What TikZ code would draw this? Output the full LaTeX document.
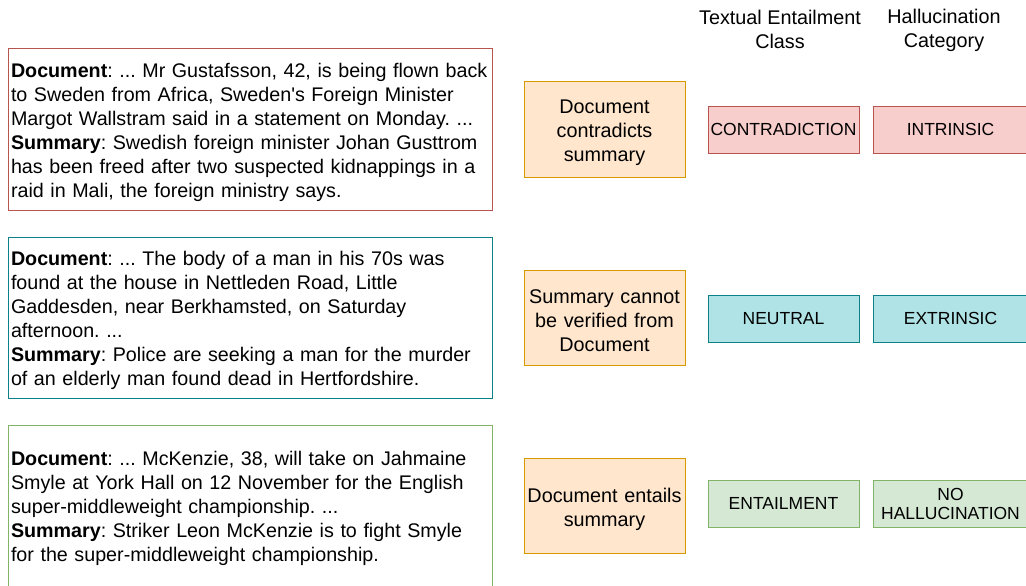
\documentclass[tikz,border=0pt]{standalone}
\usepackage{fontspec}
\setmainfont{Liberation Sans}
\usepackage{xcolor}
\definecolor{redline}{HTML}{B85450}
\definecolor{redfill}{HTML}{F8CECC}
\definecolor{tealline}{HTML}{0E8088}
\definecolor{tealfill}{HTML}{B0E3E6}
\definecolor{greenline}{HTML}{82B366}
\definecolor{greenfill}{HTML}{D5E8D4}
\definecolor{orangeline}{HTML}{D79B00}
\definecolor{orangefill}{HTML}{FFE6CC}
\tikzstyle{docbox} = [rectangle, minimum width=484, minimum height=161, text width=478, inner xsep=3, align=left, font=\fontsize{19.7}{24}\selectfont\frenchspacing, execute at begin node=\rule{0pt}{20.5pt}, fill=white, line width=1pt]
\tikzstyle{relbox} = [rectangle, minimum width=161, minimum height=95, text width=158, inner sep=0, align=center, font=\fontsize{19.8}{24}\selectfont, execute at begin node=\rule{0pt}{20.5pt}, draw=orangeline, fill=orangefill, line width=1pt]
\tikzstyle{classbox} = [rectangle, minimum width=151, minimum height=47, inner sep=0, align=center, font=\fontsize{17.5}{19}\selectfont, line width=1pt]
\tikzstyle{catbox} = [rectangle, minimum width=155, minimum height=47, inner sep=0, align=center, font=\fontsize{17.5}{19}\selectfont, line width=1pt]
\tikzstyle{header} = [align=center, font=\fontsize{19.8}{24}\selectfont, inner sep=0]

\begin{document}
\begin{tikzpicture}[x=1pt,y=-1pt]
	\useasboundingbox (0,0) rectangle (1026,586);
	% column headers
	\node[header] (hclass) at (780,29) {Textual Entailment\\Class};
	\node[header] (hcat) at (944,30) {Hallucination\\Category};
	% contradiction row
	\node[docbox, draw=redline] (doc1) at (250,129.5) {\textbf{Document}: ... Mr Gustafsson, 42, is being flown back\\to Sweden from Africa, Sweden\textquotesingle s Foreign Minister\\Margot Wallstram said in a statement on Monday. ...\\\textbf{Summary}: Swedish foreign minister Johan Gusttrom\\has been freed after two suspected kidnappings in a\\raid in Mali, the foreign ministry says.};
	\node[relbox] (rel1) at (604.5,129.5) {Document\\contradicts\\summary};
	\node[classbox, draw=redline, fill=redfill] (class1) at (783.5,129.5) {CONTRADICTION};
	\node[catbox, draw=redline, fill=redfill] (cat1) at (950.5,129.5) {INTRINSIC};
	% neutral row
	\node[docbox, draw=tealline] (doc2) at (250,317.5) {\textbf{Document}: ... The body of a man in his 70s was\\found at the house in Nettleden Road, Little\\Gaddesden, near Berkhamsted, on Saturday\\afternoon. ...\\\textbf{Summary}: Police are seeking a man for the murder\\of an elderly man found dead in Hertfordshire.};
	\node[relbox] (rel2) at (604.5,317.5) {Summary cannot\\be verified from\\Document};
	\node[classbox, draw=tealline, fill=tealfill] (class2) at (783.5,318.5) {NEUTRAL};
	\node[catbox, draw=tealline, fill=tealfill] (cat2) at (950.5,318.5) {EXTRINSIC};
	% entailment row
	\node[docbox, draw=greenline] (doc3) at (250,505.5) {\textbf{Document}: ... McKenzie, 38, will take on Jahmaine\\Smyle at York Hall on 12 November for the English\\super-middleweight championship. ...\\\textbf{Summary}: Striker Leon McKenzie is to fight Smyle\\for the super-middleweight championship.};
	\node[relbox] (rel3) at (604.5,506) {Document entails\\summary};
	\node[classbox, draw=greenline, fill=greenfill] (class3) at (783.5,503.5) {ENTAILMENT};
	\node[catbox, draw=greenline, fill=greenfill] (cat3) at (950.5,503.5) {NO\\HALLUCINATION};
\end{tikzpicture}
\end{document}
